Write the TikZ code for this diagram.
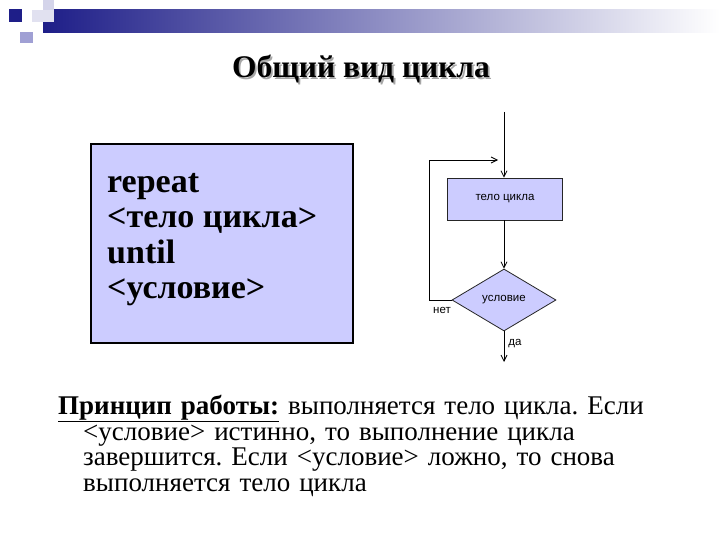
\documentclass[tikz,border=0pt]{standalone}
\usepackage{fontspec}
\setmainfont{Liberation Serif}
\newfontfamily\flowfont{Liberation Sans}
\usetikzlibrary{shapes.geometric, arrows.meta, positioning, calc}

\definecolor{lavfill}{HTML}{CCCCFF}
\definecolor{navy}{HTML}{1E1E88}
\definecolor{barmid}{HTML}{9090B0}
\definecolor{decolight}{HTML}{D4D4EA}
\definecolor{decomid}{HTML}{A0A0D4}

% shadowed heading text
\newcommand{\shadowtext}[1]{\rlap{\kern1.8pt\raisebox{-1.8pt}{\color{black!35}#1}}#1}

\begin{document}
\begin{tikzpicture}[
      x=1pt, y=-1pt,
      font=\rmfamily,
      % --- Texts ---
      heading/.style = {font=\fontsize{31.5}{34}\selectfont\bfseries, anchor=base, inner sep=0pt},
      code/.style = {font=\fontsize{34}{36}\selectfont\bfseries, anchor=base west, inner sep=0pt},
      para/.style = {font=\fontsize{27}{25.5}\selectfont, anchor=north west, inner sep=0pt, text width=640pt},
      % --- Blocks ---
      flowtext/.style = {font=\flowfont\fontsize{11.5}{13}\selectfont},
      codebox/.style = {draw=black, line width=1.6pt, fill=lavfill, anchor=north west, minimum width=262pt, minimum height=199pt, inner sep=0pt},
      procbox/.style = {flowtext, draw=black!85, line width=0.8pt, fill=lavfill, minimum width=115pt, minimum height=42pt, inner sep=0pt},
      decision/.style = {flowtext, draw=black!85, line width=0.8pt, fill=lavfill, diamond, aspect=1.68, minimum width=104pt, minimum height=62pt, inner sep=0pt},
      tag/.style = {flowtext, inner sep=0pt},
      flow/.style = {line width=0.8pt, -{Straight Barb[length=6pt, width=6pt]}}
    ]

      \useasboundingbox (0,0) rectangle (720,540);
      \fill[white] (0,0) rectangle (720,540);

      % --- Slide decoration ---
      \shade[left color=navy, middle color=barmid, right color=white] (43,10) rectangle (720,33);
      \fill[decolight] (43,0) rectangle (54,22);
      \fill[decolight!70] (32,10) rectangle (54,22);
      \fill[decomid] (20,32) rectangle (33,43);
      \fill[navy] (9,9) rectangle (22,22);

      % --- Title ---
      \node[heading] (heading) at (361,78) {\shadowtext{Общий вид цикла}};

      % --- Code box ---
      \node[codebox] (codebox) at (90,143) {};
      \foreach \txt [count=\i] in {repeat, {<тело цикла>}, until, {<условие>}}
        \node[code] (line\i) at (107, 158+35*\i) {\txt};

      % --- Flowchart ---
      \node[procbox] (body) at (505,199) {тело цикла};
      \node[decision] (cond) at (504,300) {условие};

      \coordinate (entry) at (504,112);
      \coordinate (join) at (498,160);
      \coordinate (exit) at (504,362);

      \draw[flow] (entry) -- (body.north -| entry);
      \draw[flow] (body.south -| cond.north) -- (cond.north);
      \draw[flow] (cond.west) -- ++(-22,0) |- (join);
      \draw[flow] (cond.south) -- (exit);

      \node[tag] (no) at (442,310) {нет};
      \node[tag] (yes) at (515,344) {да};

      % --- Principle ---
      \node[para] (principle) at (58,395) {\frenchspacing\lineskiplimit=-30pt\relax
        \noindent\hangindent=25pt\hangafter=1 \underline{\textbf{Принцип работы:}} выполняется тело цикла. Если\newline
        <условие> истинно, то выполнение цикла\newline
        завершится. Если <условие> ложно, то снова\newline
        выполняется тело цикла\par};

    \end{tikzpicture}
\end{document}
